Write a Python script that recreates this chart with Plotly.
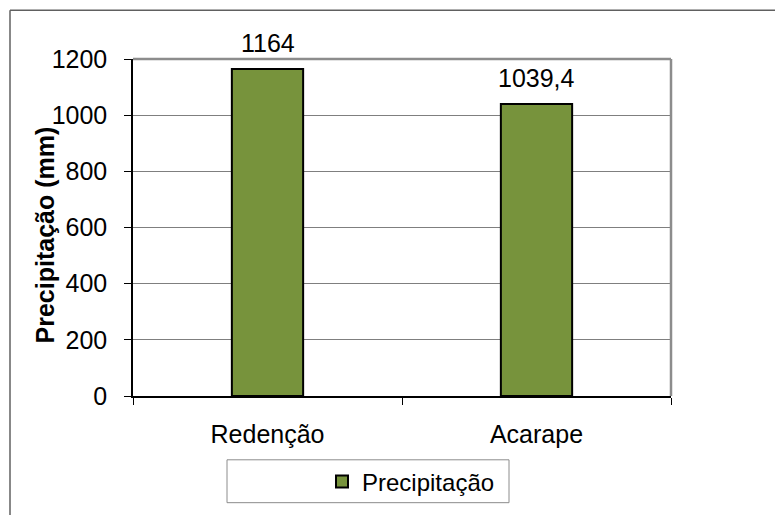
import plotly.graph_objects as go

categories = ["Redenção", "Acarape"]
values = [1164, 1039.4]
series_name = "Precipitação"
y_ticks = [0, 200, 400, 600, 800, 1000, 1200]

labels = [f"{v:g}".replace(".", ",") for v in values]

# page body has an 8px margin: size the figure so it fills the 783x515 window
OFF = 8
W, H = 783 - OFF, 515 - OFF
# plot area in screen pixels
SX0, SX1, SY0, SY1 = 133, 671, 59, 397
L, R, T, B = SX0 - OFF, W - (SX1 - OFF), SY0 - OFF, H - (SY1 - OFF)
FONT = "Liberation Sans, Arial, sans-serif"
GREEN = "#77933C"

px = lambda x: (x - SX0) / (SX1 - SX0)
py = lambda y: 1 - (y - SY0) / (SY1 - SY0)

fig = go.Figure()
fig.add_trace(go.Bar(
    x=categories, y=values, name=series_name,
    marker=dict(color=GREEN, line=dict(color="black", width=2)),
    width=0.265,
))

for c, v, t in zip(categories, values, labels):
    fig.add_annotation(x=c, y=v, text=t, showarrow=False, yshift=26,
                       font=dict(family=FONT, size=25, color="black"))

# y-axis title
fig.add_annotation(xref="paper", yref="paper", x=px(45), y=py(236),
                   xanchor="center", yanchor="middle",
                   text="<b>Precipitação (mm)</b>", textangle=-90, showarrow=False,
                   font=dict(family=FONT, size=25, color="black"))

# plot-area border (top/right grey)
fig.add_shape(type="line", xref="paper", yref="paper", x0=0, x1=1, y0=1, y1=1,
              line=dict(color="#8c8c8c", width=2.5))
fig.add_shape(type="line", xref="paper", yref="paper", x0=1, x1=1, y0=0, y1=1,
              line=dict(color="#8c8c8c", width=2.5))

# outer chart border (top and left)
fig.add_shape(type="line", xref="paper", yref="paper", x0=px(10), x1=px(800), y0=py(10), y1=py(10),
              line=dict(color="#606060", width=1.5))
fig.add_shape(type="line", xref="paper", yref="paper", x0=px(10), x1=px(10), y0=py(10), y1=py(530),
              line=dict(color="#606060", width=1.5))

# legend box
fig.add_shape(type="rect", xref="paper", yref="paper", x0=px(227), x1=px(509), y0=py(461), y1=py(504),
              line=dict(color="#8c8c8c", width=1), fillcolor="rgba(0,0,0,0)")

fig.update_layout(
    width=W, height=H,
    margin=dict(l=L, r=R, t=T, b=B),
    paper_bgcolor="white", plot_bgcolor="white",
    font=dict(family=FONT, size=25, color="black"),
    showlegend=True,
    legend=dict(orientation="h", x=px(322), xanchor="left", y=py(482), yanchor="middle",
                bgcolor="rgba(0,0,0,0)", borderwidth=0, font=dict(size=24),
                itemwidth=30),
    bargap=0.735,
)
fig.update_xaxes(
    showline=True, linecolor="black", linewidth=2,
    ticks="outside", ticklen=7, tickcolor="black", tickson="boundaries",
    ticklabelstandoff=15, showgrid=False,
    tickfont=dict(size=25),
)
fig.update_yaxes(
    range=[0, 1200], tickvals=y_ticks,
    showline=True, linecolor="black", linewidth=1.5,
    ticks="outside", ticklen=7, tickcolor="black",
    ticklabelstandoff=12,
    showgrid=True, gridcolor="#7f7f7f", gridwidth=1,
    tickfont=dict(size=25), zeroline=False,
)

fig.write_html("out.html")
